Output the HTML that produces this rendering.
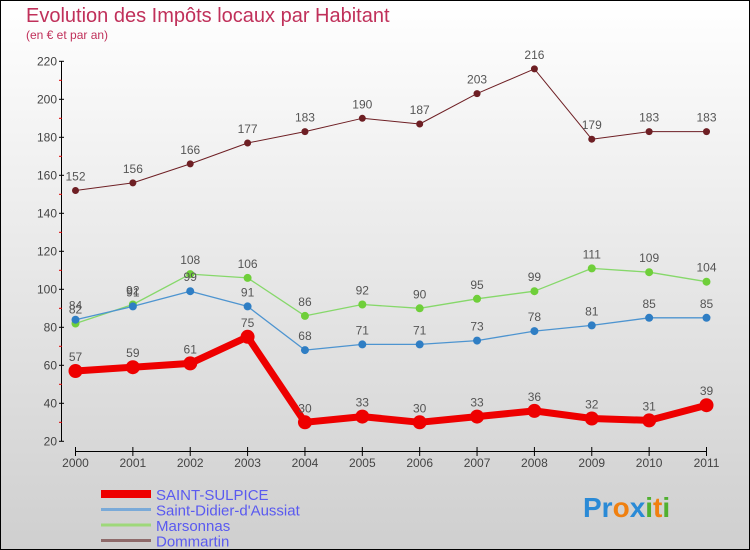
<!DOCTYPE html>
<html><head><meta charset="utf-8"><style>
body{margin:0}
#c{width:748px;height:548px;border:1px solid #000;background:linear-gradient(#fff,#cfcfcf);position:relative;font-family:"Liberation Sans",sans-serif;overflow:hidden}
</style></head><body>
<div id="c">
<svg id="s" width="748" height="548" xmlns="http://www.w3.org/2000/svg">
<text x="25" y="21" font-size="20" fill="#c0305a">Evolution des Impôts locaux par Habitant</text>
<text x="25" y="38" font-size="12" fill="#c0305a">(en € et par an)</text>
</svg>
</div>
<script>
const years=[2000,2001,2002,2003,2004,2005,2006,2007,2008,2009,2010,2011];
const yTicks=[20,40,60,80,100,120,140,160,180,200,220];
const seriesNames=["SAINT-SULPICE","Saint-Didier-d'Aussiat","Marsonnas","Dommartin"];
const sulpice=[57,59,61,75,30,33,30,33,36,32,31,39];
const didier=[84,91,99,91,68,71,71,73,78,81,85,85];
const marsonnas=[82,92,108,106,86,92,90,95,99,111,109,104];
const dommartin=[152,156,166,177,183,190,187,203,216,179,183,183];
const ns="http://www.w3.org/2000/svg",s=document.getElementById('s');
const X=i=>74.5+i*(705.5-74.5)/(years.length-1);
const Y=v=>440.3-(v-20)*1.9;
function el(t,a,p){const e=document.createElementNS(ns,t);for(const k in a)e.setAttribute(k,a[k]);(p||s).appendChild(e);return e;}
const ax=el('g',{});


el('line',{x1:60.5,y1:Y(220),x2:60.5,y2:Y(20),stroke:'#000'},ax);
el('line',{x1:X(0),y1:450.5,x2:X(11),y2:450.5,stroke:'#000'},ax);
for(let v=30;v<220;v+=20)el('line',{x1:58,y1:Y(v),x2:61,y2:Y(v),stroke:'#d00'},ax);
yTicks.forEach(v=>{el('line',{x1:58,y1:Y(v),x2:63,y2:Y(v),stroke:'#000'},ax);
const t=el('text',{x:56,y:Y(v)+4,'font-size':12,'text-anchor':'end',fill:'#444'},ax);t.textContent=v;

});
years.forEach((y,i)=>{el('line',{x1:X(i),y1:446,x2:X(i),y2:455,stroke:'#000'},ax);
const t=el('text',{x:X(i),y:466,'font-size':12,'text-anchor':'middle',fill:'#444'},ax);t.textContent=y;

});
const cfg=[[dommartin,'#6e1f24',1,3.5,'dommartin'],[marsonnas,'#86d86a',1.3,4,'marsonnas'],[didier,'#4d94d0',1.3,4,'saint-didier'],[sulpice,'#ee0000',7,7,'saint-sulpice']];
const dotc={dommartin:'#6e1f24',marsonnas:'#6fcf3a',"saint-didier":'#2f7ec4',"saint-sulpice":'#ee0000'};
cfg.forEach(([d,c,w,r,n])=>{const g=el('g',{});


el('polyline',{points:d.map((v,i)=>X(i)+','+Y(v)).join(' '),fill:'none',stroke:c,'stroke-width':w,'stroke-linejoin':'round'},g);
d.forEach((v,i)=>{const p=el('circle',{cx:X(i),cy:Y(v),r:r,fill:dotc[n]},g);


const t=el('text',{x:X(i),y:Y(v)-10,'font-size':12,'text-anchor':'middle',fill:'#555'},g);t.textContent=v;

});});
const lc=['#ee0000','#7aaad8','#9ed87a','#8e6a6a'],lw=[8,3,3,3];
seriesNames.forEach((n,i)=>{const y=497+i*15.5;const g=el('g',{});


el('line',{x1:100,y1:y-4,x2:150,y2:y-4,stroke:lc[i],'stroke-width':lw[i]},g);
const t=el('text',{x:155,y:y+2,'font-size':15,fill:'#5a5af0'},g);t.textContent=n;});
const lg=el('text',{x:582,y:516,'font-size':28,'font-weight':'bold'});


[['Pr','#2a8ad6'],['o','#f08010'],['x','#2a8ad6'],['i','#50b030'],['t','#f08010'],['i','#50b030']].forEach(([t,c])=>{const sp=el('tspan',{fill:c},lg);sp.textContent=t;});
</script>
</body></html>
